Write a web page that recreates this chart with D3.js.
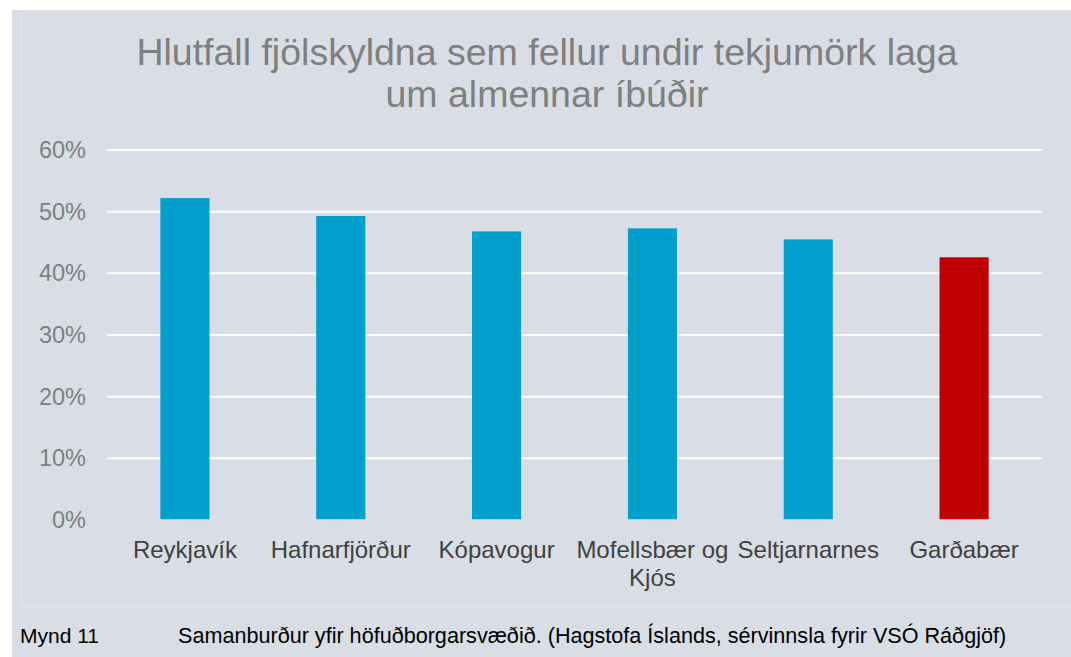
<!DOCTYPE html>
<html>
<head>
<meta charset="utf-8">
<script src="https://cdn.jsdelivr.net/npm/d3@7"></script>
<style>
  body { margin: 0; background: #fff; }
  svg { display: block; font-family: "Liberation Sans", Arial, sans-serif; }
</style>
</head>
<body>
<div id="chart"></div>
<script>
const categories = ["Reykjavík", "Hafnarfjörður", "Kópavogur", "Mofellsbær og Kjós", "Seltjarnarnes", "Garðabær"]
const values = [0.522, 0.493, 0.468, 0.473, 0.455, 0.426]
const barColors = ["#009fcc", "#009fcc", "#009fcc", "#009fcc", "#009fcc", "#c00000"]
const yTicks = [0, 0.1, 0.2, 0.3, 0.4, 0.5, 0.6]
const titleLines = ["Hlutfall fjölskyldna sem fellur undir tekjumörk laga", "um almennar íbúðir"]

const width = 1071, height = 657
const svg = d3.select("#chart").append("svg").attr("width", width).attr("height", height)

// background panel
svg.append("rect").attr("x", 12).attr("y", 10).attr("width", width - 12).attr("height", height - 10).attr("fill", "#d9dee6")
svg.append("rect").attr("x", 21.5).attr("y", 10.5).attr("width", width).attr("height", 596)
    .attr("fill", "none").attr("stroke", "#e4e4e4").attr("stroke-width", 1)

const x = d3.scaleBand().domain(categories).range([107, 1042]).padding(0)
const y = d3.scaleLinear().domain([0, 0.6]).range([520, 150])

// gridlines
svg.selectAll(".grid").data(yTicks.filter(d => d > 0)).join("line")
    .attr("x1", 107).attr("x2", 1042)
    .attr("y1", d => y(d)).attr("y2", d => y(d))
    .attr("stroke", "#fff").attr("stroke-width", 2)

const yAxis = svg.append("g").attr("transform", "translate(107,0)")
    .call(d3.axisLeft(y).tickValues(yTicks).tickFormat(d3.format(".0%")).tickSize(0).tickPadding(21))
yAxis.select(".domain").remove()
yAxis.selectAll("text").attr("font-size", 23.5).attr("fill", "#7f7f7f").attr("font-family", "Liberation Sans, Arial, sans-serif")

const barW = x.bandwidth() * 0.315
svg.selectAll(".bar").data(values).join("rect")
    .attr("x", (d, i) => x(categories[i]) + (x.bandwidth() - barW) / 2)
    .attr("y", d => y(d))
    .attr("width", barW)
    .attr("height", d => y(0) - y(d))
    .attr("fill", (d, i) => barColors[i])

// baseline
svg.append("line").attr("x1", 107).attr("x2", 1042).attr("y1", y(0)).attr("y2", y(0))
    .attr("stroke", "#e2e2e2").attr("stroke-width", 1.5)

// category labels, wrapped like the original
const labelLines = {"Mofellsbær og Kjós": ["Mofellsbær og", "Kjós"]}
categories.forEach(c => {
    const lines = labelLines[c] || [c]
    const t = svg.append("text").attr("text-anchor", "middle").attr("font-size", 24).attr("fill", "#404040")
    lines.forEach((l, i) => {
        t.append("tspan").attr("x", x(c) + x.bandwidth() / 2).attr("y", 558 + i * 28).text(l)
    })
})

// title
svg.selectAll(".title").data(titleLines).join("text")
    .attr("x", 547).attr("y", (d, i) => 65 + i * 42)
    .attr("text-anchor", "middle").attr("font-size", 37.5).attr("fill", "#7f7f7f")
    .text(d => d)

// caption
svg.append("text").attr("x", 20).attr("y", 643).attr("font-size", 21).attr("fill", "#000").text("Mynd 11")
svg.append("text").attr("x", 178).attr("y", 643).attr("font-size", 21.6).attr("fill", "#000")
    .text("Samanburður yfir höfuðborgarsvæðið. (Hagstofa Íslands, sérvinnsla fyrir VSÓ Ráðgjöf)")
</script>
</body>
</html>
